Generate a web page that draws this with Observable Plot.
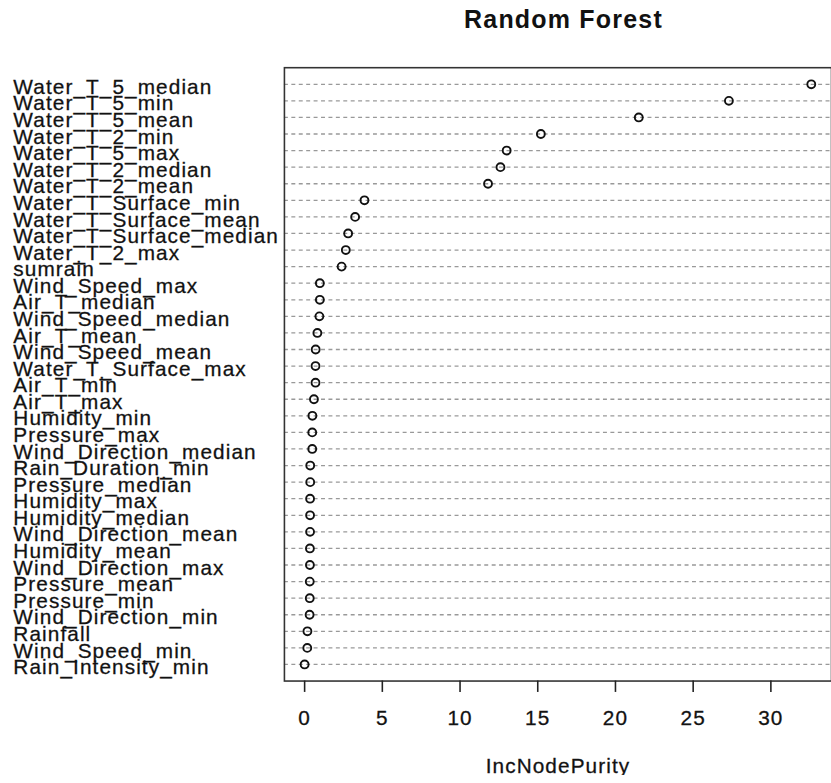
<!DOCTYPE html>
<html><head><meta charset="utf-8">
<script src="https://cdn.jsdelivr.net/npm/d3@7"></script>
<script src="https://cdn.jsdelivr.net/npm/@observablehq/plot@0.6"></script>
<style>
html,body{margin:0;padding:0;background:#fff;overflow:hidden;}
#wrap{position:relative;width:831px;height:783px;overflow:hidden;background:#fff;}
#title{height:40px;position:relative;}
#title span{position:absolute;left:563.5px;top:6.7px;transform:translateX(-50%);font-family:"Liberation Sans",Arial,sans-serif;font-weight:bold;font-size:25px;letter-spacing:1.2px;line-height:25px;white-space:nowrap;color:#111;}
#chart svg text{letter-spacing:1.1px;stroke:#1a1a1a;stroke-width:0.3px;}
</style></head><body>
<div id="wrap"><div id="title"><span>Random Forest</span></div><div id="chart"></div></div>
<script>
const features = [
  "Water_T_5_median","Water_T_5_min","Water_T_5_mean","Water_T_2_min","Water_T_5_max",
  "Water_T_2_median","Water_T_2_mean","Water_T_Surface_min","Water_T_Surface_mean",
  "Water_T_Surface_median","Water_T_2_max","sumrain","Wind_Speed_max","Air_T_median",
  "Wind_Speed_median","Air_T_mean","Wind_Speed_mean","Water_T_Surface_max","Air_T_min",
  "Air_T_max","Humidity_min","Pressure_max","Wind_Direction_median","Rain_Duration_min",
  "Pressure_median","Humidity_max","Humidity_median","Wind_Direction_mean","Humidity_mean",
  "Wind_Direction_max","Pressure_mean","Pressure_min","Wind_Direction_min","Rainfall",
  "Wind_Speed_min","Rain_Intensity_min"
];
const purity = [
  32.6, 27.3, 21.5, 15.2, 13.0,
  12.6, 11.8, 3.85, 3.25,
  2.8, 2.65, 2.38, 0.98, 0.98,
  0.95, 0.82, 0.71, 0.70, 0.70,
  0.60, 0.50, 0.49, 0.49, 0.36,
  0.36, 0.35, 0.35, 0.35, 0.34,
  0.34, 0.33, 0.33, 0.32, 0.18,
  0.17, 0.0
];
const xTicks = [0, 5, 10, 15, 20, 25, 30];
const xLabel = "IncNodePurity";

const data = features.map((f, i) => ({feature: f, value: purity[i]}));

const chart = Plot.plot({
  width: 840,
  height: 743,
  marginLeft: 287,
  marginRight: 0,
  marginTop: 27.5,
  marginBottom: 95.5,
  style: {fontFamily: '"Liberation Sans", Arial, sans-serif', fontSize: "21px", color: "#111", background: "#fff"},
  x: {domain: [-1.3, 33.9], label: null},
  y: {domain: features, padding: 1, round: false, label: null},
  marks: [
    Plot.ruleY(features, {stroke: "#999", strokeWidth: 1.3, strokeDasharray: "4,3.5"}),
    Plot.frame({stroke: "#333", strokeWidth: 1.6}),
    Plot.dot(data, {x: "value", y: "feature", r: 4, stroke: "#111", strokeWidth: 1.9, fill: "none"}),
    Plot.axisX({ticks: xTicks, anchor: "bottom", tickSize: 11.5, tickPadding: 17.8, strokeWidth: 1.6, stroke: "#222",
      fill: "#111", fontSize: 21, label: xLabel, labelAnchor: "center", labelArrow: "none"}),
    Plot.axisY({anchor: "left", tickSize: 0, tickPadding: 0, textAnchor: "start", dx: -274, dy: 3,
      fill: "#111", fontSize: 21, label: null})
  ]
});
document.getElementById("chart").appendChild(chart);
</script>
</body></html>
